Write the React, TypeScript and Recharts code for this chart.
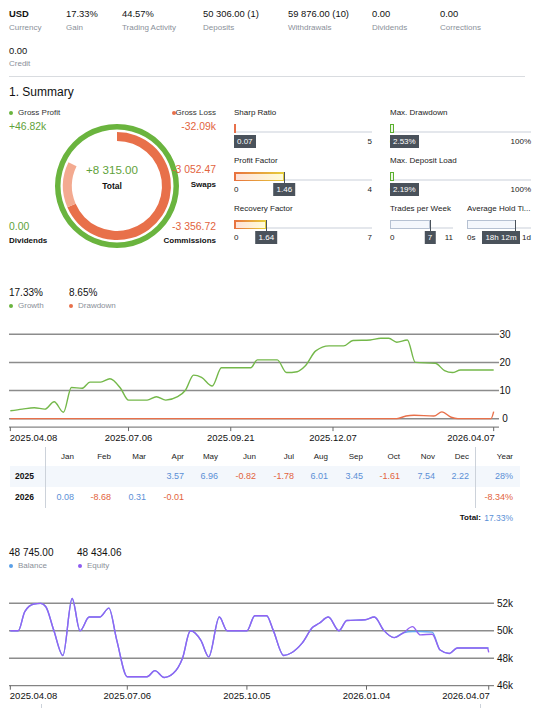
import React from 'react';
import { LineChart, Line, XAxis, YAxis, CartesianGrid, PieChart, Pie, Cell } from 'recharts';

// ---------- data ----------
const headerValues = ['USD', '17.33%', '44.57%', '50 306.00 (1)', '59 876.00 (10)', '0.00', '0.00', '0.00'];
const headerLabels = ['Currency', 'Gain', 'Trading Activity', 'Deposits', 'Withdrawals', 'Dividends', 'Corrections', 'Credit'];

const grossProfit = 46820;
const grossLoss = 32090;
const swaps = 3052.47;
const commissions = 3356.72;

const metricTitles = ['Sharp Ratio', 'Profit Factor', 'Recovery Factor', 'Max. Drawdown', 'Max. Deposit Load', 'Trades per Week', 'Average Hold Ti...'];
const metricValues = [0.07, 1.46, 1.64, 2.53, 2.19, 7, 18.2];
const metricMax = [5, 4, 7, 100, 100, 11, 24];
const metricLabels = ['0.07', '1.46', '1.64', '2.53%', '2.19%', '7', '18h 12m'];
const metricMinText = ['0', '0', '0', '0', '0', '0', '0s'];
const metricMaxText = ['5', '4', '7', '100%', '100%', '11', '1d'];

const growthDays = [0, 9, 18, 26, 33, 40, 46, 54, 60, 68, 75, 83, 89, 103, 110, 117, 126, 132, 138, 144, 152, 159, 181, 186, 201, 208, 216, 222, 230, 240, 251, 258, 271, 279, 285, 291, 299, 305, 320, 327, 333, 339, 364];
const growthValues = [2.8, 3.4, 3.9, 3.4, 6.0, 2.3, 11.1, 10.8, 13.0, 13.0, 14.2, 10.8, 6.6, 6.6, 7.8, 6.6, 7.8, 10.2, 15.5, 14.7, 11.6, 18.1, 18.1, 20.9, 20.9, 16.4, 16.7, 18.7, 24.1, 25.9, 25.9, 27.8, 28.0, 28.6, 28.6, 27.2, 28.0, 20.0, 19.7, 17.1, 16.4, 17.3, 17.3];
const drawdownDays = [0, 291, 298, 304, 319, 325, 332, 337, 362, 364];
const drawdownValues = [0, 0, 0.95, 1.2, 0.95, 2.4, 0.5, 0, 0, 2.5];
const growthTickDays = [0, 89, 166, 243, 364];
const growthTickLabels = ['2025.04.08', '2025.07.06', '2025.09.21', '2025.12.07', '2026.04.07'];
const growthYTicks = [0, 10, 20, 30];

const months = ['Jan', 'Feb', 'Mar', 'Apr', 'May', 'Jun', 'Jul', 'Aug', 'Sep', 'Oct', 'Nov', 'Dec'];
const years = ['2025', '2026'];
const monthly2025 = [null, null, null, 3.57, 6.96, -0.82, -1.78, 6.01, 3.45, -1.61, 7.54, 2.22];
const monthly2026 = [0.08, -8.68, 0.31, -0.01, null, null, null, null, null, null, null, null];
const yearTotals = ['28%', '-8.34%'];
const totalGain = '17.33%';

const eqDays = [0, 6, 11, 18, 23, 27, 33, 40, 47, 53, 60, 68, 75, 81, 89, 104, 110, 117, 124, 131, 137, 145, 151, 159, 165, 180, 186, 195, 200, 208, 214, 222, 230, 235, 242, 250, 256, 270, 277, 284, 292, 299, 306, 312, 321, 327, 334, 340, 363, 364];
const equityValues = [50000, 50000, 51400, 51950, 52000, 51750, 50050, 48200, 52350, 50000, 51000, 51000, 51650, 49300, 46650, 46650, 47100, 46600, 46900, 48000, 50000, 49300, 48100, 51000, 50000, 50000, 51100, 51100, 50050, 48200, 48400, 49100, 50250, 50550, 51000, 50000, 50750, 50800, 51000, 50050, 49500, 49850, 50300, 49700, 49750, 48600, 48350, 48750, 48750, 48434];
const balanceValues = [50000, 50000, 51400, 51950, 52000, 51750, 50050, 48200, 52350, 50000, 51000, 51000, 51650, 49300, 46650, 46650, 47100, 46600, 46900, 48000, 50000, 49300, 48100, 51000, 50000, 50000, 51100, 51100, 50050, 48200, 48400, 49100, 50250, 50550, 51000, 50000, 50750, 50800, 51000, 50050, 49500, 49850, 49950, 49950, 49900, 48600, 48350, 48750, 48750, 48745];
const balTickDays = [0, 89, 180, 271, 364];
const balTickLabels = ['2025.04.08', '2025.07.06', '2025.10.05', '2026.01.04', '2026.04.07'];
const balYTicks = [46000, 48000, 50000, 52000];
const balYLabels = ['46k', '48k', '50k', '52k'];

// ---------- styles ----------
const FONT = '"Liberation Sans", Arial, sans-serif';
const GREEN = '#6ab43e';
const GREEN_T = '#5fa23a';
const ORANGE = '#e8704a';
const ORANGE_T = '#e2633d';
const SALMON = '#f3aa90';
const BLUE_T = '#5b8fd6';
const GRAY_L = '#8a9099';
const DARK = '#222';
const TIP = '#4a525b';

type TP = { x: number; y: number; s?: number; c?: string; w?: number; a?: 'start' | 'end' | 'middle'; children: React.ReactNode };
function Txt({ x, y, s = 8, c = DARK, w = 400, a = 'start', children }: TP) {
  const style: React.CSSProperties = {
    position: 'absolute', top: y - s * 0.6, fontSize: s, lineHeight: `${s * 1.2}px`, color: c,
    fontWeight: w, whiteSpace: 'nowrap', fontFamily: FONT,
  };
  if (a === 'start') style.left = x;
  else if (a === 'end') style.right = 534 - x;
  else { style.left = x; style.transform = 'translateX(-50%)'; }
  return <div style={style}>{children}</div>;
}

function Dot({ x, y, c }: { x: number; y: number; c: string }) {
  return <div style={{ position: 'absolute', left: x - 2, top: y - 2, width: 4, height: 4, borderRadius: 2, background: c }} />;
}

// metric layout
const metricPos = [
  { x0: 234, x1: 372, ty: 113, kind: 'solid', tip: 'left' },
  { x0: 234, x1: 372, ty: 161, kind: 'warm', tip: 'center' },
  { x0: 234, x1: 372, ty: 209, kind: 'warm', tip: 'center' },
  { x0: 390, x1: 531, ty: 113, kind: 'green', tip: 'left' },
  { x0: 390, x1: 531, ty: 161, kind: 'green', tip: 'left' },
  { x0: 390, x1: 453, ty: 209, kind: 'cool', tip: 'center' },
  { x0: 467, x1: 531, ty: 209, kind: 'cool', tip: 'right' },
];

function Metric({ i }: { i: number }) {
  const p = metricPos[i];
  const frac = metricValues[i] / metricMax[i];
  const w = Math.max(2, (p.x1 - p.x0) * frac);
  const end = p.x0 + w;
  const top = p.ty + 11;
  const h = 9;
  let bar: React.ReactNode;
  if (p.kind === 'solid') {
    bar = <div style={{ position: 'absolute', left: p.x0, top, width: w, height: h, background: ORANGE }} />;
  } else if (p.kind === 'warm') {
    bar = (
      <div style={{ position: 'absolute', left: p.x0, top, width: w, height: h, background: 'linear-gradient(90deg,#e8703f,#e6cf3c)', padding: 1.5, boxSizing: 'border-box' }}>
        <div style={{ width: '100%', height: '100%', background: 'linear-gradient(90deg,#fde2d8,#fffbd8)' }} />
      </div>
    );
  } else if (p.kind === 'green') {
    bar = <div style={{ position: 'absolute', left: p.x0, top, width: Math.max(w, 4), height: h, border: '1.5px solid #5bb030', background: '#eef8e6', boxSizing: 'border-box' }} />;
  } else {
    bar = <div style={{ position: 'absolute', left: p.x0, top, width: w, height: h, border: '1px solid #b6c1d2', background: '#f4f7fc', boxSizing: 'border-box' }} />;
  }
  const tipStyle: React.CSSProperties = {
    position: 'absolute', top: top + h + 2, height: 13, lineHeight: '13px', padding: '0 3px', background: TIP, color: '#fff',
    fontSize: 8, fontFamily: FONT, whiteSpace: 'nowrap',
  };
  if (p.tip === 'left') tipStyle.left = p.x0;
  else if (p.tip === 'right') tipStyle.right = 534 - (end + 4);
  else { tipStyle.left = end; tipStyle.transform = 'translateX(-50%)'; }
  return (
    <>
      <Txt x={p.x0} y={p.ty} s={8}>{metricTitles[i]}</Txt>
      <div style={{ position: 'absolute', left: p.x0, top: top + h - 2, width: p.x1 - p.x0, height: 2, background: '#e4e7ec' }} />
      {bar}
      {p.tip !== 'left' && <div style={{ position: 'absolute', left: end - 0.5, top, width: 1, height: h + 2, background: TIP }} />}
      <Txt x={p.x0} y={top + h + 9} s={8}>{metricMinText[i]}</Txt>
      <Txt x={p.x1} y={top + h + 9} s={8} a="end">{metricMaxText[i]}</Txt>
      <div style={tipStyle}>{metricLabels[i]}</div>
    </>
  );
}

const fmt = (v: number) => v.toFixed(2);

function makeXTick(days: number[], labels: string[], baseline: number) {
  return (props: any) => {
    const { x, payload, index } = props;
    const idx = days.indexOf(payload.value);
    const anchor = idx === 0 ? 'start' : idx === days.length - 1 ? 'end' : 'middle';
    const dx = idx === 0 ? -0.5 : idx === days.length - 1 ? 1 : 0;
    return (
      <text x={x + dx} y={baseline} textAnchor={anchor} fontSize={9.5} fill="#111" fontFamily={FONT} key={index}>
        {idx >= 0 ? labels[idx] : ''}
      </text>
    );
  };
}

function makeYTick(ticks: number[], labels: string[]) {
  return (props: any) => {
    const { y, payload } = props;
    const idx = ticks.indexOf(payload.value);
    return (
      <text x={505} y={y + 3.5} textAnchor="middle" fontSize={10} fill="#111" fontFamily={FONT}>
        {idx >= 0 ? labels[idx] : ''}
      </text>
    );
  };
}

export default function App() {
  const lossData = [
    { name: 'loss', v: grossLoss },
    { name: 'fees', v: swaps + commissions },
    { name: 'rest', v: grossProfit - grossLoss - swaps - commissions },
  ];
  const lossColors = [ORANGE, SALMON, 'none'];
  const growthData = growthDays.map((d, i) => ({ day: d, v: growthValues[i] }));
  const ddData = drawdownDays.map((d, i) => ({ day: d, v: drawdownValues[i] }));
  const eqData = eqDays.map((d, i) => ({ day: d, eq: equityValues[i], bal: balanceValues[i] }));

  const colX = [74, 111, 146, 184, 218, 256, 294, 328, 363, 400, 435, 469];
  const rowsData = [monthly2025, monthly2026];
  const hdrX = [9, 66, 122, 203, 288, 372, 440];

  const GT = 320, GMT = 11.5, GXH = 25, GH = GMT + 95.6 + GXH;
  const BT = 590, BMT = 5.1, BXH = 22, BH = BMT + 90.6 + BXH;

  return (
    <div style={{ position: 'absolute', left: 0, top: 0, width: 534, height: 708, overflow: 'hidden', background: '#fff', fontFamily: FONT }}>
      {/* header */}
      {hdrX.map((x, i) => (
        <React.Fragment key={i}>
          <Txt x={x} y={14} s={9.4} w={i === 0 ? 700 : 400} c="#111">{headerValues[i]}</Txt>
          <Txt x={x} y={28} s={8} c={GRAY_L}>{headerLabels[i]}</Txt>
        </React.Fragment>
      ))}
      <Txt x={9} y={51} s={9.4} c="#111">{headerValues[7]}</Txt>
      <Txt x={9} y={64} s={8} c={GRAY_L}>{headerLabels[7]}</Txt>
      <div style={{ position: 'absolute', left: 9, top: 76, width: 516, height: 1, background: '#d9dce0' }} />

      <Txt x={9} y={92} s={12} c="#111">1. Summary</Txt>

      {/* donut */}
      <div style={{ position: 'absolute', left: 112 - 70, top: 181 - 70 }}>
        <PieChart width={140} height={140}>
          <Pie data={[{ v: grossProfit }]} dataKey="v" cx={70} cy={70} innerRadius={56.5} outerRadius={62} startAngle={90} endAngle={-270} stroke="none" fill={GREEN} isAnimationActive={false} />
          <Pie data={lossData} dataKey="v" cx={70} cy={70} innerRadius={45} outerRadius={54} startAngle={90} endAngle={-270} stroke="none" isAnimationActive={false}>
            {lossData.map((d, i) => <Cell key={d.name} fill={lossColors[i]} />)}
          </Pie>
        </PieChart>
      </div>
      <Txt x={112} y={170} s={11.6} c={GREEN_T} a="middle">{'+8 315.00'}</Txt>
      <Txt x={112} y={186} s={8.5} c="#111" a="middle" w={700}>Total</Txt>

      <Dot x={11} y={113} c={GREEN} />
      <Txt x={18} y={113} s={8} c="#333">Gross Profit</Txt>
      <Txt x={9} y={127} s={10.4} c={GREEN_T}>{'+' + (grossProfit / 1000).toFixed(2) + 'k'}</Txt>
      <Dot x={174} y={113} c={ORANGE} />
      <Txt x={216} y={113} s={8} c="#333" a="end">Gross Loss</Txt>
      <Txt x={216} y={127} s={10.4} c={ORANGE_T} a="end">{'-' + (grossLoss / 1000).toFixed(2) + 'k'}</Txt>
      <Txt x={216} y={170} s={10.4} c={ORANGE_T} a="end">{'-3 052.47'}</Txt>
      <Txt x={216} y={185} s={8} c="#111" a="end" w={700}>Swaps</Txt>
      <Txt x={9} y={227} s={10.4} c={GREEN_T}>0.00</Txt>
      <Txt x={9} y={241} s={8} c="#111" w={700}>Dividends</Txt>
      <Txt x={216} y={227} s={10.4} c={ORANGE_T} a="end">{'-3 356.72'}</Txt>
      <Txt x={216} y={241} s={8} c="#111" a="end" w={700}>Commissions</Txt>

      {/* metrics */}
      {metricTitles.map((_, i) => <Metric key={i} i={i} />)}

      {/* growth legend */}
      <Txt x={9} y={293} s={10} c="#111">17.33%</Txt>
      <Txt x={69} y={293} s={10} c="#111">8.65%</Txt>
      <Dot x={11} y={306} c={GREEN} />
      <Txt x={18} y={306} s={8} c={GRAY_L}>Growth</Txt>
      <Dot x={71} y={306} c={ORANGE} />
      <Txt x={78} y={306} s={8} c={GRAY_L}>Drawdown</Txt>

      <div style={{ position: 'absolute', left: 0, top: GT }}>
        <LineChart width={534} height={GH} margin={{ top: GMT, right: 0, left: 9, bottom: 0 }}>
          <CartesianGrid vertical={false} stroke="#8c8c8c" strokeWidth={1.5} horizontalValues={growthYTicks} />
          <XAxis type="number" dataKey="day" domain={[-1, 368]} ticks={growthTickDays} interval={0} height={GXH}
            axisLine={{ stroke: '#666' }} tickLine={{ stroke: '#666' }} tickSize={4}
            tick={makeXTick(growthTickDays, growthTickLabels, GMT + 95.6 + 13.5)} allowDataOverflow />
          <YAxis orientation="right" domain={[-3, 31]} ticks={growthYTicks} width={35} axisLine={false} tickLine={false}
            tick={makeYTick(growthYTicks, growthYTicks.map(String))} allowDataOverflow />
          <Line data={growthData} dataKey="v" type="monotone" stroke="#74b84a" strokeWidth={1.4} dot={false} isAnimationActive={false} />
          <Line data={ddData} dataKey="v" type="monotone" stroke={ORANGE} strokeWidth={1.4} dot={false} isAnimationActive={false} />
        </LineChart>
      </div>

      {/* monthly table */}
      <div style={{ position: 'absolute', left: 10, top: 466, width: 510, height: 21, background: '#f3f7fc' }} />
      <div style={{ position: 'absolute', left: 45, top: 447, width: 1, height: 61, background: '#ccd2da' }} />
      <div style={{ position: 'absolute', left: 475, top: 447, width: 1, height: 61, background: '#ccd2da' }} />
      {months.map((m, i) => <Txt key={m} x={colX[i]} y={457} s={8} c="#222" a="end">{m}</Txt>)}
      <Txt x={513} y={457} s={8} c="#222" a="end">Year</Txt>
      {years.map((yr, r) => {
        const yy = r === 0 ? 476 : 497;
        return (
          <React.Fragment key={yr}>
            <Txt x={15} y={yy} s={8.5} c="#111" w={700}>{yr}</Txt>
            {rowsData[r].map((v, i) => v === null ? null : (
              <Txt key={i} x={colX[i]} y={yy} s={9} c={v < 0 ? ORANGE_T : BLUE_T} a="end">{fmt(v)}</Txt>
            ))}
            <Txt x={513} y={yy} s={9} c={yearTotals[r].startsWith('-') ? ORANGE_T : BLUE_T} a="end">{yearTotals[r]}</Txt>
          </React.Fragment>
        );
      })}
      <Txt x={481} y={518} s={8} c="#111" a="end" w={700}>Total:</Txt>
      <Txt x={513} y={518} s={8.5} c={BLUE_T} a="end">{totalGain}</Txt>

      {/* balance legend */}
      <Txt x={9} y={553} s={10} c="#111">48 745.00</Txt>
      <Txt x={77} y={553} s={10} c="#111">48 434.06</Txt>
      <Dot x={11} y={566} c="#5aa0e8" />
      <Txt x={18} y={566} s={8} c={GRAY_L}>Balance</Txt>
      <Dot x={80} y={566} c="#8e5cf0" />
      <Txt x={87} y={566} s={8} c={GRAY_L}>Equity</Txt>

      <div style={{ position: 'absolute', left: 0, top: BT }}>
        <LineChart width={534} height={BH} data={eqData} margin={{ top: BMT, right: 5, left: 9, bottom: 0 }}>
          <CartesianGrid vertical={false} stroke="#8c8c8c" strokeWidth={1.5} horizontalValues={[48000, 50000, 52000]} />
          <XAxis type="number" dataKey="day" domain={[-1, 368]} ticks={balTickDays} interval={0} height={BXH}
            axisLine={{ stroke: '#666' }} tickLine={{ stroke: '#666' }} tickSize={4}
            tick={makeXTick(balTickDays, balTickLabels, BMT + 90.6 + 13.8)} allowDataOverflow />
          <YAxis orientation="right" domain={[46000, 52600]} ticks={balYTicks} width={35} axisLine={false} tickLine={false}
            tick={makeYTick(balYTicks, balYLabels)} allowDataOverflow />
          <Line dataKey="bal" type="monotone" stroke="#62a6ee" strokeWidth={1.4} dot={false} isAnimationActive={false} />
          <Line dataKey="eq" type="monotone" stroke="#9262f2" strokeWidth={1.4} dot={false} isAnimationActive={false} />
        </LineChart>
      </div>
      <div style={{ position: 'absolute', left: 41, top: 704, width: 1, height: 4, background: '#ccd2da' }} />
      <div style={{ position: 'absolute', left: 480, top: 704, width: 1, height: 4, background: '#ccd2da' }} />
    </div>
  );
}
